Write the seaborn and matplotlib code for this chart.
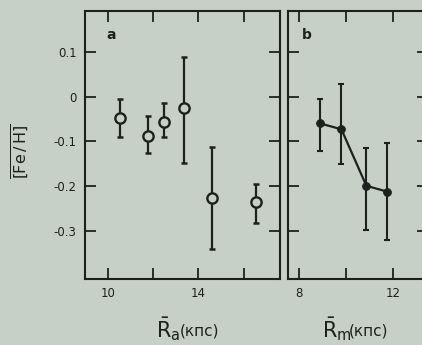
import matplotlib
matplotlib.use("Agg")
import matplotlib.pyplot as plt
import seaborn as sns
import numpy as np
import pandas as pd

# Panel a data
a_r = [10.53, 11.78, 12.50, 13.36, 14.58, 16.53]
a_fe = [-0.047, -0.089, -0.056, -0.025, -0.226, -0.235]
a_hi = [-0.006, -0.043, -0.015, 0.088, -0.113, -0.194]
a_lo = [-0.090, -0.126, -0.091, -0.149, -0.340, -0.283]

# Panel b data
b_r = [8.91, 9.80, 10.86, 11.74]
b_fe = [-0.060, -0.073, -0.199, -0.212]
b_hi = [-0.006, 0.028, -0.114, -0.104]
b_lo = [-0.122, -0.151, -0.298, -0.319]

y_ticks = [0.1, 0.0, -0.1, -0.2, -0.3]
y_ticklabels = ["0.1", "0", "-0.1", "-0.2", "-0.3"]
a_xticks = [10, 12, 14, 16]
a_xticklabels = ["10", "", "14", ""]
b_xticks = [8, 10, 12]
b_xticklabels = ["8", "", "12"]

BG = "#c6d0c6"
INK = "#1c211d"

sns.set_theme(style="ticks")
plt.rcParams["font.family"] = ["DejaVu Sans"]
plt.rcParams["axes.unicode_minus"] = False
plt.rcParams["mathtext.fontset"] = "dejavusans"

fig = plt.figure(figsize=(4.22, 3.45), dpi=100, facecolor=BG)
ax_a = fig.add_axes([85 / 422, 66 / 345, 195 / 422, 268 / 345])
ax_b = fig.add_axes([288 / 422, 66 / 345, 140 / 422, 268 / 345])

df_a = pd.DataFrame({"r": a_r, "fe": a_fe})
df_b = pd.DataFrame({"r": b_r, "fe": b_fe})

# panel a
err_a = [np.array(a_fe) - np.array(a_lo), np.array(a_hi) - np.array(a_fe)]
ax_a.errorbar(a_r, a_fe, yerr=err_a, fmt="none", ecolor=INK, elinewidth=1.6,
              capsize=2.5, capthick=1.8, zorder=2)
sns.scatterplot(data=df_a, x="r", y="fe", ax=ax_a, marker="o", s=55,
                facecolor=BG, edgecolor=INK, linewidth=1.7, zorder=3)

# panel b
err_b = [np.array(b_fe) - np.array(b_lo), np.array(b_hi) - np.array(b_fe)]
ax_b.errorbar(b_r, b_fe, yerr=err_b, fmt="none", ecolor=INK, elinewidth=1.5,
              capsize=2.5, capthick=1.5, zorder=2)
sns.lineplot(data=df_b, x="r", y="fe", ax=ax_b, color=INK, linewidth=1.6,
             marker="o", markersize=5.5, markeredgecolor=INK, zorder=3)

for ax in (ax_a, ax_b):
    ax.set_facecolor(BG)
    ax.set_ylim(-0.407, 0.191)
    ax.set_yticks(y_ticks)
    for s in ax.spines.values():
        s.set_linewidth(1.5)
        s.set_color(INK)
    ax.tick_params(direction="in", length=8, width=1.3, colors=INK,
                   top=True, right=True, labelsize=8.5, pad=6)
    ax.set_xlabel("")
    ax.set_ylabel("")

ax_a.set_xlim(9.0, 17.6)
ax_a.set_xticks(a_xticks)
ax_a.set_xticklabels(a_xticklabels)
ax_a.set_yticklabels(y_ticklabels)
ax_a.tick_params(axis="y", pad=6)

ax_b.set_xlim(7.53, 13.48)
ax_b.set_xticks(b_xticks)
ax_b.set_xticklabels(b_xticklabels)
ax_b.set_yticklabels([])

ax_a.text(0.11, 0.935, "a", transform=ax_a.transAxes, fontsize=10,
          fontweight="bold", color=INK, ha="left", va="top")
ax_b.text(0.1, 0.935, "b", transform=ax_b.transAxes, fontsize=10,
          fontweight="bold", color=INK, ha="left", va="top")

fig.text(20 / 422, 1 - 151 / 345, r"$\overline{\mathrm{[Fe\,/\,H]}}$",
         rotation=90, ha="center", va="center", fontsize=11.5, color=INK)

# x labels: R-bar with subscript, then the unit in small upright text
fig.text(156 / 422, 1 - 337 / 345, r"$\bar{\mathrm{R}}_{\mathrm{a}}$",
         ha="left", va="baseline", fontsize=15, color=INK)
fig.text(180 / 422, 1 - 336 / 345, "(кпс)",
         ha="left", va="baseline", fontsize=11, color=INK)
fig.text(322 / 422, 1 - 337 / 345, r"$\bar{\mathrm{R}}_{\mathrm{m}}$",
         ha="left", va="baseline", fontsize=15, color=INK)
fig.text(349 / 422, 1 - 336 / 345, "(кпс)",
         ha="left", va="baseline", fontsize=11, color=INK)

fig.savefig("out.png", dpi=100, facecolor=BG)
